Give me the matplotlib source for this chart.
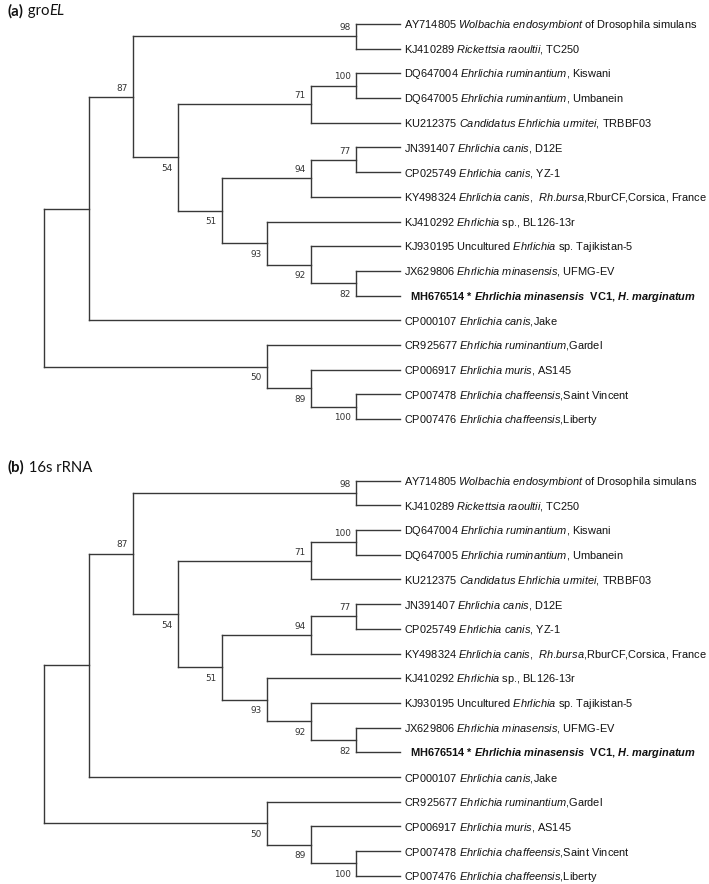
import re
import matplotlib
matplotlib.use("Agg")
import matplotlib.pyplot as plt
from matplotlib.collections import LineCollection

plt.rcParams['mathtext.fontset'] = 'custom'
plt.rcParams['mathtext.rm'] = 'Liberation Sans'
plt.rcParams['mathtext.it'] = 'Liberation Sans:italic'
plt.rcParams['mathtext.bf'] = 'Liberation Sans:bold'
plt.rcParams['mathtext.bfit'] = 'Liberation Sans:italic:bold'

# leaf labels: {..} italic, [..] bold italic
leaf_labels = [
    "AY714805 {Wolbachia endosymbiont} of Drosophila simulans",
    "KJ410289 {Rickettsia raoultii,} TC250",
    "DQ647004 {Ehrlichia ruminantium,} Kiswani",
    "DQ647005 {Ehrlichia ruminantium,} Umbanein",
    "KU212375 {Candidatus Ehrlichia urmitei,} TRBBF03",
    "JN391407 {Ehrlichia canis,} D12E",
    "CP025749 {Ehrlichia canis,} YZ-1",
    "KY498324 {Ehrlichia canis,  Rh.bursa,}RburCF,Corsica, France",
    "KJ410292 {Ehrlichia} sp., BL126-13r",
    "KJ930195 Uncultured {Ehrlichia} sp. Tajikistan-5",
    "JX629806 {Ehrlichia minasensis,} UFMG-EV",
    "  MH676514 * [Ehrlichia minasensis]  VC1, [H. marginatum]",
    "CP000107 {Ehrlichia canis,}Jake",
    "CR925677 {Ehrlichia ruminantium,}Gardel",
    "CP006917 {Ehrlichia muris,} AS145",
    "CP007478 {Ehrlichia chaffeensis,}Saint Vincent",
    "CP007476 {Ehrlichia chaffeensis,}Liberty",
]
bold_leaf = 11

# topology: (child1, child2, bootstrap); ints are leaf indices
tree = (
    (
        (
            (0, 1, 98),
            (
                ((2, 3, 100), 4, 71),
                (
                    ((5, 6, 77), 7, 94),
                    (8, (9, (10, 11, 82), 92), 93),
                    51,
                ),
                54,
            ),
            87,
        ),
        12,
        None,
    ),
    (13, (14, (15, 16, 100), 89), 50),
    None,
)

panels = [("(a)", " gro", "EL"), ("(b)", " 16s rRNA", "")]

W, H = 709, 884
X0, XS = 44, 44.5      # px of root, px per level
Y0, YS = 24, 24.69     # px of first leaf, px per leaf
LINE = '#383838'


def to_mathtext(s):
    out = ''
    for p in re.split(r'(\{[^}]*\}|\[[^\]]*\])', s):
        if p.startswith('{'):
            cmd, body = 'mathit', p[1:-1]
        elif p.startswith('['):
            cmd, body = 'mathbfit', p[1:-1]
        else:
            out += p
            continue
        # punctuation stays outside math so mathtext adds no extra space
        out += re.sub(r'([^\s,.]+)', lambda m: r'$\%s{%s}$' % (cmd, m.group(1)), body)
    return out


def height(n):
    if isinstance(n, int):
        return 0
    return 1 + max(height(n[0]), height(n[1]))


DEPTH = height(tree)


def walk(n, segs, supports):
    if isinstance(n, int):
        return DEPTH, n
    x1, y1 = walk(n[0], segs, supports)
    x2, y2 = walk(n[1], segs, supports)
    x = DEPTH - height(n)
    y = (y1 + y2) / 2
    segs.append([(x, y1), (x, y2)])
    segs.append([(x, y1), (x1, y1)])
    segs.append([(x, y2), (x2, y2)])
    for child, cx, cy, side in ((n[0], x1, y1, 'up'), (n[1], x2, y2, 'down')):
        if not isinstance(child, int) and child[2] is not None:
            supports.append((cx, cy, child[2], side))
    return x, y


fig = plt.figure(figsize=(W / 100, H / 100), dpi=100)

panel_tops = [0, 456.7]
panel_heights = [456.7, H - 456.7]

for (tag, rest, itpart), top, hgt in zip(panels, panel_tops, panel_heights):
    ax = fig.add_axes([0, 1 - (top + hgt) / H, 1, hgt / H])
    ax.set_xlim(-X0 / XS, (W - X0) / XS)
    ax.set_ylim((hgt - Y0) / YS, -Y0 / YS)
    ax.axis('off')

    segs, supports = [], []
    walk(tree, segs, supports)
    ax.add_collection(LineCollection(segs, colors=LINE, linewidths=1.0,
                                     capstyle='projecting'))

    for cx, cy, val, side in supports:
        dy = 6.3 if side == 'up' else -8.0
        ax.annotate(str(val), (cx, cy), xytext=(-3.6, dy), textcoords='offset points',
                    ha='right', va='center', fontsize=6.4, family='DejaVu Sans',
                    color='#333333')

    for i, lab in enumerate(leaf_labels):
        ax.annotate(to_mathtext(lab), (DEPTH, i), xytext=(3.2, -2.9),
                    textcoords='offset points', ha='left', va='baseline',
                    fontsize=7.95, family='Liberation Sans', color='#111111',
                    fontweight='bold' if i == bold_leaf else 'normal')

    # panel title
    t1 = fig.text(8 / W, 1 - (top + 11) / H, tag, fontsize=10.7, family='Lato',
                  fontweight='bold', va='center', ha='left', color='#111111')
    t2 = ax.annotate(rest, xy=(1, 0), xycoords=t1, va='bottom', ha='left',
                     fontsize=10.7, family='Lato', color='#111111')
    if itpart:
        ax.annotate(itpart, xy=(1, 0), xycoords=t2, va='bottom', ha='left',
                    fontsize=10.7, family='Lato', style='italic', color='#111111')

fig.savefig("out.png", dpi=100, facecolor='white')
